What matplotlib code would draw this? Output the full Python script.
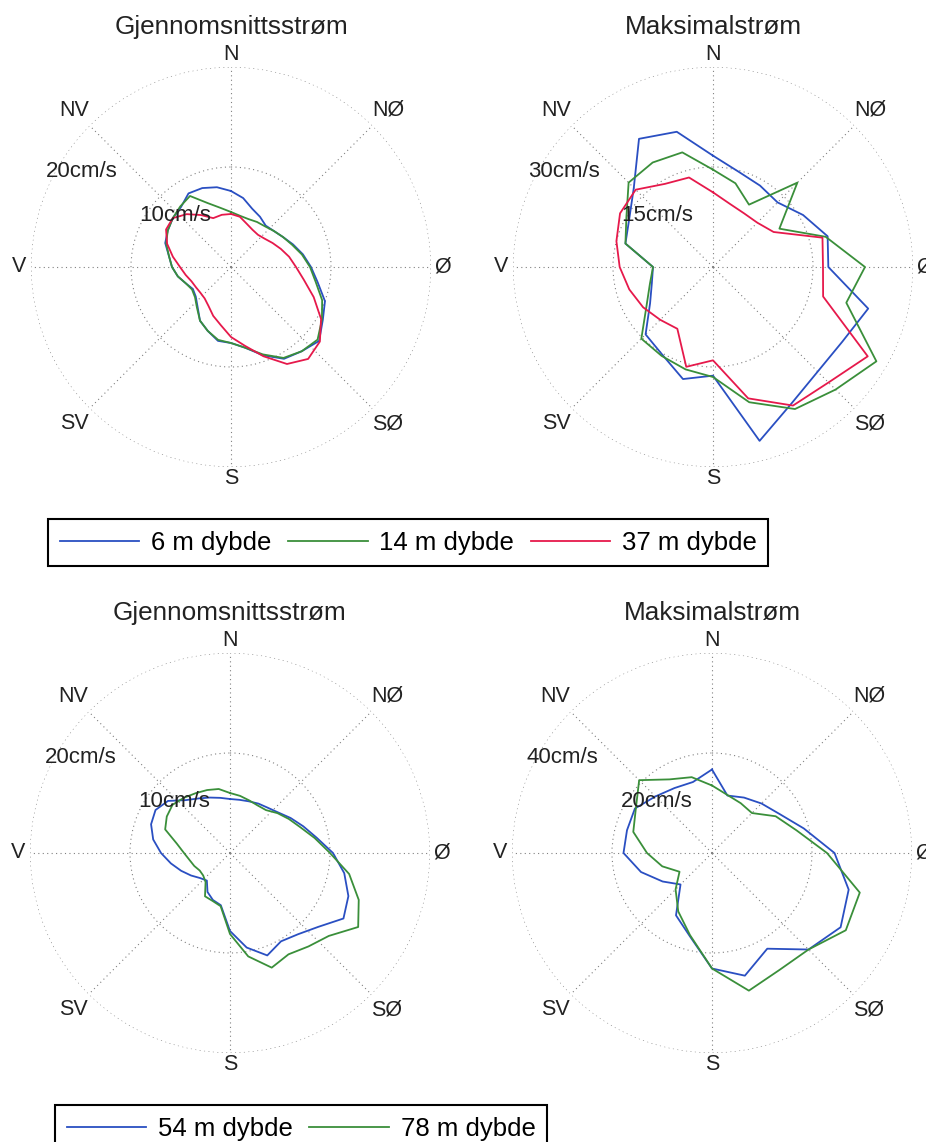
import numpy as np
import matplotlib.pyplot as plt

plt.rcParams['font.family'] = ['Liberation Sans', 'DejaVu Sans']

W, H = 926, 1142

# direction bins, compass degrees (clockwise from north)
dir_mean = np.arange(0, 360, 10)
dir_max = np.arange(0, 360, 15)

# upper pair: 6, 14 and 37 m depth (cm/s)
mean_6m = [7.6, 7.0, 6.2, 5.8, 5.4, 5.6, 6.0, 6.6, 7.3, 8.0, 8.8, 10.0, 10.6, 11.5, 11.0, 10.6, 9.4, 8.2,
           7.6, 7.5, 6.8, 6.2, 5.2, 4.6, 4.4, 4.8, 5.4, 5.9, 6.3, 7.0, 7.3, 7.6, 7.8, 8.5, 8.4, 8.1]
mean_14m = [5.5, 5.2, 5.1, 5.2, 5.3, 5.6, 6.0, 6.5, 7.2, 7.9, 8.6, 9.7, 10.5, 11.3, 11.0, 10.5, 9.3, 8.2,
            7.6, 7.4, 6.8, 6.2, 5.3, 4.7, 4.5, 4.8, 5.4, 5.9, 6.3, 6.9, 7.3, 7.6, 7.9, 8.2, 6.8, 6.0]
mean_37m = [5.3, 5.1, 4.6, 4.3, 4.2, 4.4, 4.8, 5.3, 5.9, 6.5, 7.4, 8.8, 10.4, 11.6, 12.0, 11.2, 9.5, 8.0,
            7.0, 5.9, 5.2, 4.5, 4.1, 4.0, 4.05, 4.2, 4.6, 5.1, 5.9, 6.8, 7.5, 7.6, 6.9, 6.0, 5.2, 5.3]

max_6m = [16.7, 14.8, 14.1, 13.7, 15.6, 17.8, 17.3, 24.1, 22.4, 22.2, 23.6, 27.0,
          16.3, 17.4, 15.2, 14.3, 10.9, 9.5, 9.0, 13.6, 14.5, 16.8, 22.2, 21.0]
max_14m = [14.6, 13.0, 10.8, 17.9, 11.5, 17.5, 22.8, 20.7, 28.3, 26.0, 24.6, 21.0,
           16.5, 15.9, 15.4, 15.2, 11.5, 9.8, 9.0, 13.6, 15.0, 17.9, 18.1, 17.8]
max_37m = [11.2, 9.8, 9.3, 9.4, 10.5, 17.0, 16.5, 17.1, 26.8, 24.5, 24.0, 20.4,
           14.0, 15.5, 10.7, 11.2, 12.1, 13.0, 14.0, 15.0, 16.1, 16.4, 14.4, 13.9]

# lower pair: 54 and 78 m depth (cm/s)
mean_54m = [5.4, 5.4, 5.5, 5.7, 5.9, 6.3, 7.0, 7.8, 8.8, 10.3, 11.6, 12.6, 13.1, 11.5, 10.6, 10.2, 10.9, 9.6,
            7.8, 5.3, 5.0, 4.5, 3.6, 3.9, 4.5, 5.2, 6.0, 6.9, 7.8, 8.4, 8.6, 8.1, 6.9, 6.3, 5.9, 5.6]
mean_78m = [6.0, 5.8, 5.6, 5.5, 5.6, 6.2, 6.8, 7.5, 8.6, 10.0, 12.1, 13.7, 14.8, 12.9, 12.2, 11.7, 12.2, 10.5,
            8.1, 5.4, 5.1, 5.0, 3.8, 3.5, 3.5, 3.8, 4.1, 4.6, 5.4, 6.9, 7.3, 7.5, 7.2, 6.9, 6.7, 6.5]

max_54m = [16.7, 11.9, 12.8, 14.0, 15.6, 19.0, 24.5, 28.3, 29.7, 27.3, 22.1, 25.4,
           23.1, 17.2, 14.4, 8.9, 11.4, 14.7, 17.7, 17.6, 17.8, 16.0, 15.0, 14.7]
max_78m = [13.5, 12.0, 11.5, 11.3, 14.7, 17.5, 23.0, 30.6, 30.9, 27.3, 27.0, 28.5,
           23.1, 17.0, 13.5, 10.3, 7.5, 10.3, 13.0, 16.3, 17.6, 20.6, 17.0, 15.7]

compass = ['N', 'NØ', 'Ø', 'SØ', 'S', 'SV', 'V', 'NV']
blue, green, red = '#2a4fc2', '#3a8f3a', '#e6194b'

fig = plt.figure(figsize=(W / 100, H / 100), dpi=100)


def rose(cx, cy, rmax, dirs, series, colors, title):
    ax = fig.add_axes([(cx - 200) / W, 1 - (cy + 200) / H, 400 / W, 400 / H], projection='polar')
    ax.set_theta_zero_location('N')
    ax.set_theta_direction(-1)
    lines = []
    for vals, col in zip(series, colors):
        th = np.deg2rad(np.append(dirs, dirs[0]))
        r = np.append(vals, vals[0])
        ln, = ax.plot(th, r, color=col, lw=1.3)
        lines.append(ln)
    ax.set_ylim(0, rmax)
    ax.set_yticks([rmax / 2, rmax])
    ax.set_yticklabels([])
    ax.set_xticks(np.deg2rad(np.arange(0, 360, 45)))
    ax.set_xticklabels([])
    ax.grid(color='#808080', ls=(0, (1, 3)), lw=0.8)
    ax.spines['polar'].set_visible(False)
    ax.patch.set_alpha(0)
    for i, lab in enumerate(compass):
        rr = 1.06 if i % 2 == 0 else 1.11
        ax.text(np.deg2rad(45 * i), rr * rmax, lab, ha='center', va='center',
                fontsize=15.5, color='#222222', clip_on=False)
    ax.text(np.deg2rad(313), 0.38 * rmax, f'{rmax // 2}cm/s', ha='center', va='center',
            fontsize=16, color='#222222', zorder=5)
    ax.text(np.deg2rad(302.5), 0.885 * rmax, f'{rmax}cm/s', ha='center', va='center',
            fontsize=16, color='#222222', zorder=5)
    fig.text(cx / W, 1 - (cy - 240) / H, title, ha='center', va='center',
             fontsize=18.8, color='#222222')
    return lines


top = rose(231, 267, 20, dir_mean, [mean_6m, mean_14m, mean_37m], [blue, green, red], 'Gjennomsnittsstrøm')
rose(713, 267, 30, dir_max, [max_6m, max_14m, max_37m], [blue, green, red], 'Maksimalstrøm')
bot = rose(230, 853, 20, dir_mean, [mean_54m, mean_78m], [blue, green], 'Gjennomsnittsstrøm')
rose(712, 853, 40, dir_max, [max_54m, max_78m], [blue, green], 'Maksimalstrøm')

leg_kw = dict(loc='upper left', fontsize=18.5, frameon=True, fancybox=False, edgecolor='black',
              handlelength=3.1, handletextpad=0.45, columnspacing=0.65, borderaxespad=0,
              borderpad=0.45, framealpha=1)
leg1 = fig.legend(top, ['6 m dybde', '14 m dybde', '37 m dybde'], ncol=3,
                  bbox_to_anchor=(48 / W, 1 - 519 / H), **leg_kw)
leg1.get_frame().set_linewidth(1.5)
leg2 = fig.legend(bot, ['54 m dybde', '78 m dybde'], ncol=2,
                  bbox_to_anchor=(55 / W, 1 - 1105 / H), **leg_kw)
leg2.get_frame().set_linewidth(1.5)

fig.savefig('out.png', dpi=100)
